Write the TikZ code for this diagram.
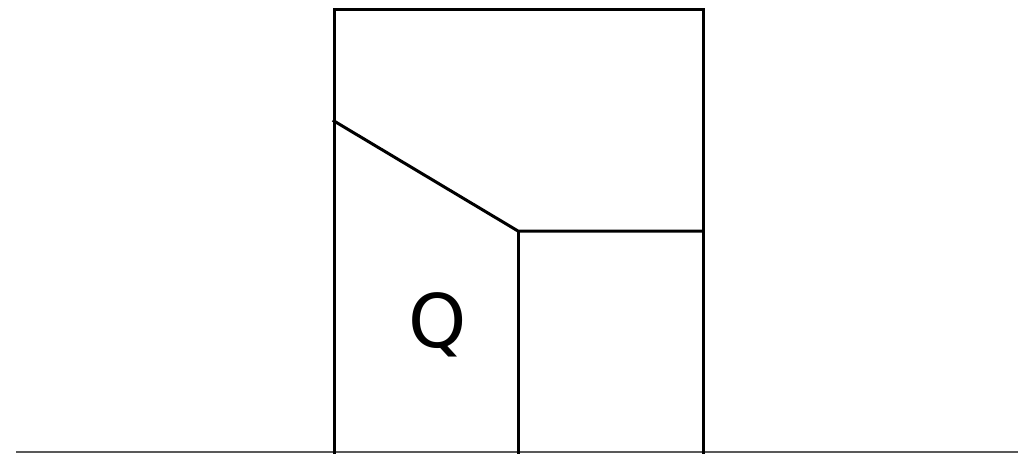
\documentclass[tikz,border=0pt]{standalone}
\usepackage{fontspec}
\newfontfamily\qfont{DejaVu Sans}
\begin{document}
\begin{tikzpicture}[x=1pt,y=-1pt,
  wall/.style={line width=3pt,black,line cap=rect},
  ground/.style={line width=1.2pt,black!65},
  lbl/.style={font=\qfont\fontsize{74}{80}\selectfont,inner sep=0pt,anchor=base}]
\useasboundingbox (0,0) rectangle (1018,453);
\coordinate (bl) at (334,452);
\coordinate (tl) at (334,9);
\coordinate (tr) at (703,9);
\coordinate (br) at (703,452);
\coordinate (d1) at (334,121);
\coordinate (m) at (518,231);
\coordinate (r) at (703,231);
\coordinate (mb) at (518,452);
\draw[ground] (16,452) -- (1018,452);
\draw[wall] (bl) -- (tl) -- (tr) -- (br);
\draw[wall] (d1) -- (m) -- (r);
\draw[wall] (m) -- (mb);
\node[lbl] (q) at (438,347) {Q};
\end{tikzpicture}
\end{document}
